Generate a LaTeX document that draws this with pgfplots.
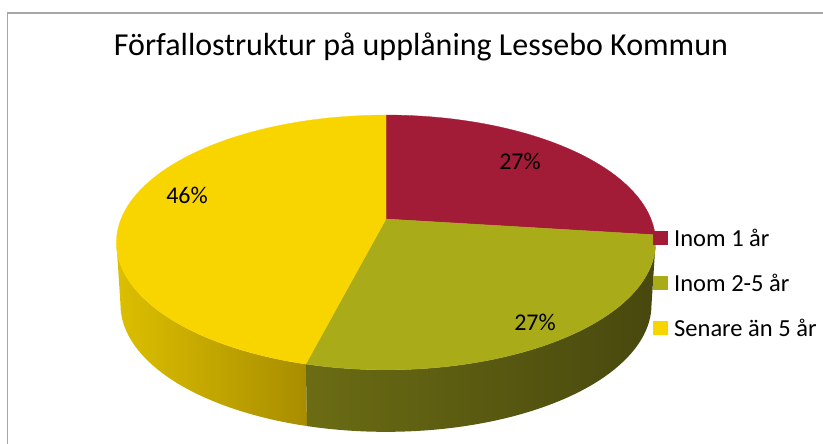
\documentclass[border=0pt]{standalone}
\usepackage{pgfplots}
\pgfplotsset{compat=1.18}
\usepackage{fontspec}
\setmainfont{Carlito}

\definecolor{sliceA}{HTML}{A31C37}
\definecolor{sliceB}{HTML}{A9AB18}
\definecolor{sliceC}{HTML}{F9D500}
\definecolor{wallCl}{HTML}{DCBF00}
\definecolor{wallCr}{HTML}{A88D00}
\definecolor{wallBl}{HTML}{6B6C13}
\definecolor{wallBm}{HTML}{404009}
\definecolor{wallBr}{HTML}{48480F}
\definecolor{frame}{HTML}{A6A6A6}

% shares of the loan portfolio (percent)
\def\valA{27} % Inom 1 år
\def\valB{27} % Inom 2-5 år
\def\valC{46} % Senare än 5 år

\begin{document}
\begin{tikzpicture}[declare function={
  % tilted disc seen in perspective, centre at (386,219)
  px(\t)=386+265*cos(\t)/(1+0.184*sin(\t));
  py(\t)=219-123.1*sin(\t)/(1+0.184*sin(\t));
  % bottom rim of the disc
  qx(\t)=386+261*cos(\t)/(1+0.184*sin(\t));
  qy(\t)=281-123.1*sin(\t)/(1+0.184*sin(\t));
}]
\begin{axis}[
  width=823pt, height=444pt, scale only axis,
  xmin=0, xmax=823, ymin=0, ymax=444, y dir=reverse,
  hide axis, clip=false,
]
\pgfmathsetmacro\aA{90}
\pgfmathsetmacro\aB{\aA-3.6*\valA}
\pgfmathsetmacro\aC{\aB-3.6*\valB}
\pgfmathsetmacro\aD{\aC-3.6*\valC}

% side walls (front half only)
\path[left color=wallCl, right color=wallCr]
  plot[domain=-169.4:\aC, samples=40, variable=\t] ({px(\t)},{py(\t)})
  -- plot[domain=\aC:-169.4, samples=40, variable=\t] ({qx(\t)},{qy(\t)}) -- cycle;
\path[left color=wallBl, middle color=wallBm, right color=wallBr]
  plot[domain=\aC:-10.6, samples=50, variable=\t] ({px(\t)},{py(\t)})
  -- plot[domain=-10.6:\aC, samples=50, variable=\t] ({qx(\t)},{qy(\t)}) -- cycle;

% top face
\filldraw[sliceA, line width=0.3pt] (386,219)
  -- plot[domain=\aB:\aA, samples=50, variable=\t] ({px(\t)},{py(\t)}) -- cycle;
\filldraw[sliceB, line width=0.3pt] (386,219)
  -- plot[domain=\aC:\aB, samples=50, variable=\t] ({px(\t)},{py(\t)}) -- cycle;
\filldraw[sliceC, line width=0.3pt] (386,219)
  -- plot[domain=\aD:\aC, samples=80, variable=\t] ({px(\t)},{py(\t)}) -- cycle;

% data labels
\node[font=\fontsize{24}{28}\selectfont] at (520,161) {\valA\%};
\node[font=\fontsize{24}{28}\selectfont] at (535,322) {\valB\%};
\node[font=\fontsize{24}{28}\selectfont] at (187,195) {\valC\%};

% title
\node[font=\fontsize{32}{38}\selectfont] at (421,47) {Förfallostruktur på upplåning Lessebo Kommun};

% legend
\fill[sliceA] (653,231) rectangle (668,245);
\fill[sliceB] (653,276) rectangle (668,290);
\fill[sliceC] (653,321) rectangle (668,335);
\node[anchor=west, font=\fontsize{24.5}{28}\selectfont, inner sep=0pt] at (674,238) {Inom 1 år};
\node[anchor=west, font=\fontsize{24.5}{28}\selectfont, inner sep=0pt] at (674,283) {Inom 2-5 år};
\node[anchor=west, font=\fontsize{24.5}{28}\selectfont, inner sep=0pt] at (674,328) {Senare än 5 år};

% chart frame (top and left edges visible)
\draw[frame, line width=1.2pt] (7.5,444) -- (7.5,13) -- (823,13);

\coordinate (SW) at (0,444);
\coordinate (NE) at (823,0);
\end{axis}
\pgfresetboundingbox
\path (SW) rectangle (NE);
\end{tikzpicture}
\end{document}
